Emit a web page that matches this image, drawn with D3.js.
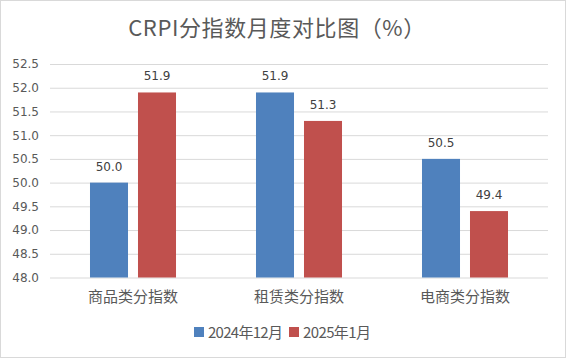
<!DOCTYPE html>
<html><head><meta charset="utf-8">
<script src="https://cdn.jsdelivr.net/npm/d3@7/dist/d3.min.js"></script>
<style>body{margin:0;background:#fff;}svg{display:block;font-family:"Microsoft YaHei","Noto Sans CJK SC",sans-serif;}</style>
</head><body><svg id="c" width="566" height="358"></svg>
<script>
const categories = ["商品类分指数","租赁类分指数","电商类分指数"];
const seriesNames = ["2024年12月","2025年1月"];
const dec2024 = [50.0, 51.9, 50.5];
const jan2025 = [51.9, 51.3, 49.4];
const yTicks = [48.0,48.5,49.0,49.5,50.0,50.5,51.0,51.5,52.0,52.5];
const colors = ["#4F81BD","#C0504D"];

const svg = d3.select("#c");
svg.append("rect").attr("x",0.5).attr("y",0.5).attr("width",565).attr("height",357)
  .attr("fill","#fff").attr("stroke","#D9D9D9");

const pL=50,pR=548,pT=64,pB=277.5;
const y = d3.scaleLinear().domain([48,52.5]).range([pB,pT]);
const x0 = d3.scaleBand().domain(categories).range([pL,pR]);
const x1 = d3.scaleBand().domain(seriesNames).range([0,x0.bandwidth()]).paddingInner(0.208).paddingOuter(0.833);

svg.append("text").attr("x",277).attr("y",36).attr("text-anchor","middle")
  .attr("font-size",22).attr("letter-spacing",0.6).attr("fill","#595959").text("CRPI分指数月度对比图（%）");

const yAxis = d3.axisLeft(y).tickValues(yTicks).tickFormat(d3.format(".1f")).tickSize(-(pR-pL));
const gy = svg.append("g").attr("transform",`translate(${pL},0)`).call(yAxis);
gy.select(".domain").remove();
gy.selectAll(".tick line").attr("stroke","#D9D9D9");
gy.selectAll(".tick text").attr("x",-11).attr("fill","#595959").attr("font-size",12)
  .style("font-family","'DejaVu Sans', sans-serif");

const data = categories.map((c,i)=>({c, vals:[dec2024[i],jan2025[i]]}));
const g = svg.selectAll(".grp").data(data).enter().append("g")
  .attr("transform",d=>`translate(${x0(d.c)},0)`);
g.selectAll("rect").data(d=>d.vals.map((v,j)=>({s:seriesNames[j],v,j}))).enter().append("rect")
  .attr("x",d=>x1(d.s)).attr("width",x1.bandwidth())
  .attr("y",d=>y(d.v)).attr("height",d=>y(48)-y(d.v)).attr("fill",d=>colors[d.j]);
g.selectAll("text.lbl").data(d=>d.vals.map((v,j)=>({s:seriesNames[j],v,j}))).enter().append("text")
  .attr("class","lbl").attr("x",d=>x1(d.s)+x1.bandwidth()/2).attr("y",d=>y(d.v)-12)
  .attr("text-anchor","middle").attr("font-size",12).attr("fill","#404040")
  .style("font-family","'DejaVu Sans', sans-serif").text(d=>d3.format(".1f")(d.v));

svg.append("g").selectAll("text").data(categories).enter().append("text")
  .attr("x",d=>x0(d)+x0.bandwidth()/2).attr("y",302).attr("text-anchor","middle")
  .attr("font-size",15).attr("fill","#595959").text(d=>d);

const leg = svg.append("g");
const legX=[194,289];
const legW=[75,68];
seriesNames.forEach((s,i)=>{
  leg.append("rect").attr("x",legX[i]).attr("y",327).attr("width",10).attr("height",10).attr("fill",colors[i]);
  leg.append("text").attr("x",legX[i]+14).attr("y",338).attr("font-size",15).attr("fill","#595959")
    .attr("textLength",legW[i]).attr("lengthAdjust","spacing").text(s);
});
</script></body></html>
